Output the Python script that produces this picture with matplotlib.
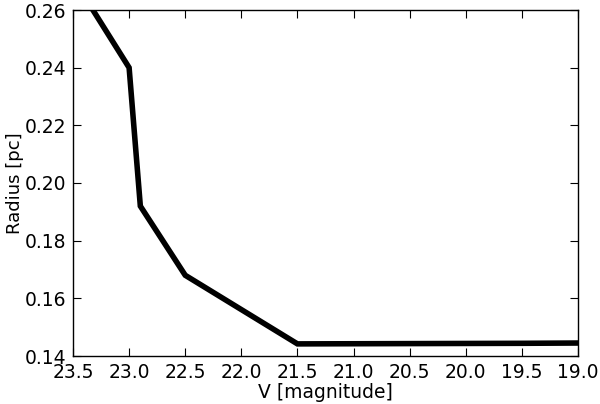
import matplotlib
matplotlib.use("Agg")
import matplotlib.pyplot as plt

# V magnitude vs radius
v_mag = [23.5, 23.0, 22.9, 22.5, 21.5, 20.5, 19.5, 19.0]
radius = [0.271, 0.240, 0.192, 0.168, 0.1442, 0.1443, 0.1444, 0.1445]

x_ticks = [23.5, 23.0, 22.5, 22.0, 21.5, 21.0, 20.5, 20.0, 19.5, 19.0]
y_ticks = [0.14, 0.16, 0.18, 0.20, 0.22, 0.24, 0.26]

plt.rcParams['font.family'] = ['DejaVu Sans']
plt.rcParams['font.size'] = 13.5

fig = plt.figure(figsize=(6.0, 4.04), dpi=100)
ax = fig.add_axes([73 / 600, 1 - 356 / 404, 505 / 600, 346 / 404])

ax.plot(v_mag, radius, color='black', linewidth=4, solid_joinstyle='miter')

ax.set_xlim(23.5, 19.0)
ax.set_ylim(0.14, 0.26)
ax.set_xticks(x_ticks)
ax.set_xticklabels(["%.1f" % t for t in x_ticks])
ax.set_yticks(y_ticks)
ax.set_yticklabels(["%.2f" % t for t in y_ticks])
ax.tick_params(direction='in', top=True, right=True, length=6, width=0.8, pad=5)
ax.set_xlabel("V [magnitude]", labelpad=1)
ax.set_ylabel("Radius [pc]", fontsize=13, ha='center', va='center')
ax.yaxis.set_label_coords(-0.114, 0.5)
for s in ax.spines.values():
    s.set_linewidth(1.0)

fig.savefig("out.png", dpi=100)
